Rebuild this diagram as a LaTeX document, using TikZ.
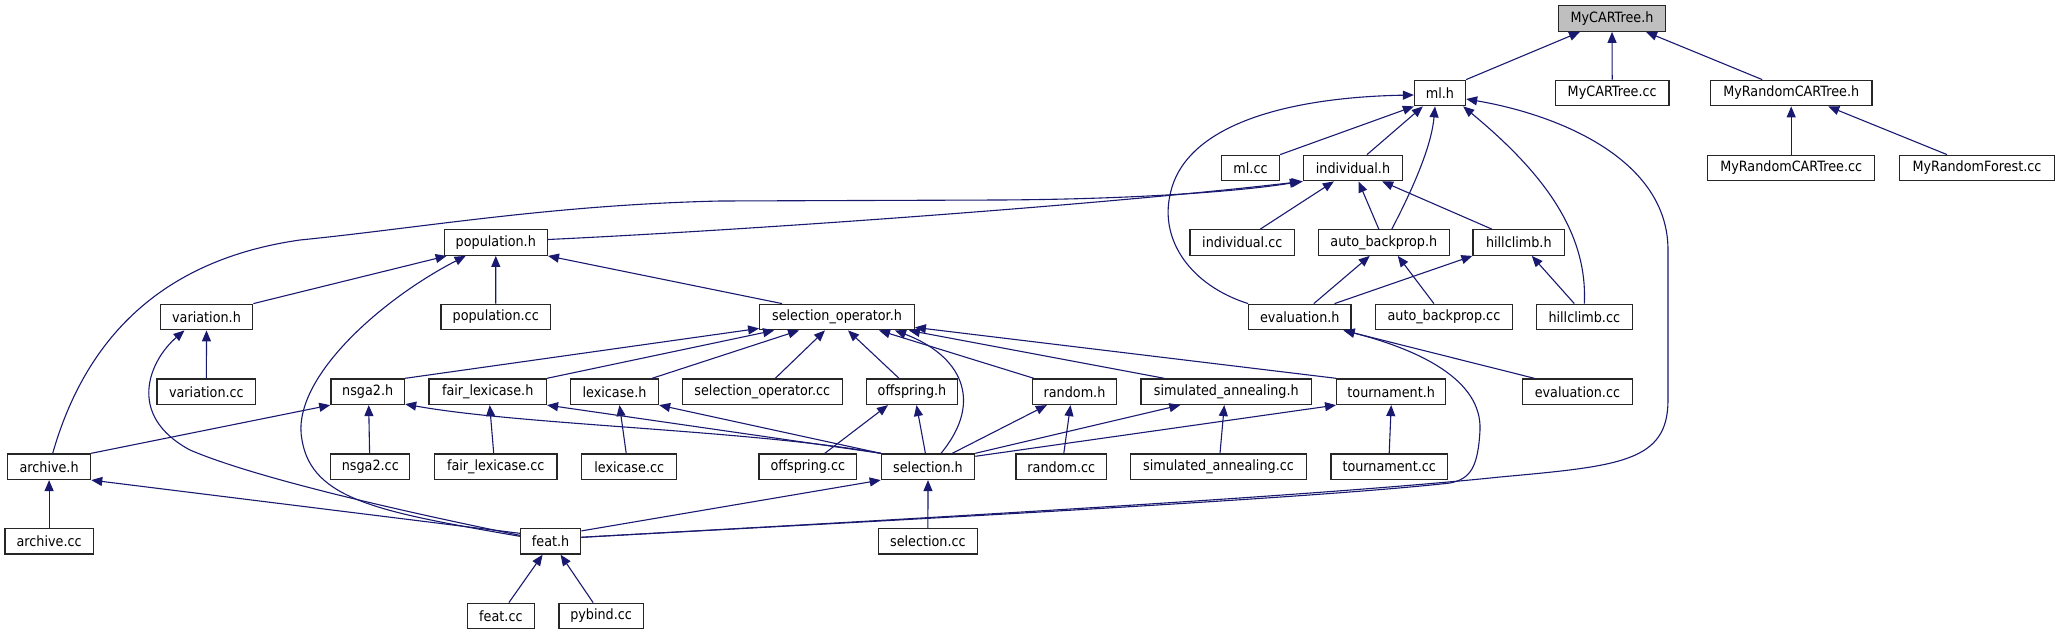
\documentclass[tikz,border=0pt]{standalone}
\usepackage{fontspec}
\setmainfont{DejaVu Sans}[FakeStretch=0.9]
\usetikzlibrary{arrows.meta}
\definecolor{mblue}{HTML}{191970}
\definecolor{nodegray}{HTML}{BFBFBF}
\tikzset{
  box/.style={draw=black!85, line width=1.3pt, fill=white, minimum height=25.5pt, inner sep=0pt, anchor=center, font=\fontsize{14.2pt}{16pt}\selectfont},
  e/.style={draw=mblue, line width=1.1pt, {Triangle[length=11pt,width=9pt]}-}
}
\begin{document}
\begin{tikzpicture}[x=1pt,y=-1pt]
\useasboundingbox (0,0) rectangle (2059,635);
% row 0
\node[box, fill=nodegray, minimum width=106.7pt] (MyCARTreeh) at (1612,18.5) {MyCARTree.h};
% row 1
\node[box, minimum width=51pt] (mlh) at (1440,93) {ml.h};
\node[box, minimum width=113.4pt] (MyCARTreecc) at (1612.2,93) {MyCARTree.cc};
\node[box, minimum width=161.6pt] (MyRCTh) at (1791.2,93) {MyRandomCARTree.h};
% row 2
\node[box, minimum width=167pt] (MyRCTcc) at (1791.2,168) {MyRandomCARTree.cc};
\node[box, minimum width=155.3pt] (MyRFcc) at (1977,168) {MyRandomForest.cc};
\node[box, minimum width=58pt] (mlcc) at (1250.5,168) {ml.cc};
\node[box, minimum width=99pt] (indh) at (1353,168) {individual.h};
% row 3
\node[box, minimum width=103pt] (poph) at (495.8,242.5) {population.h};
\node[box, minimum width=104.6pt] (indcc) at (1242.3,242.5) {individual.cc};
\node[box, minimum width=131pt] (abh) at (1383.8,242.5) {auto\_backprop.h};
\node[box, minimum width=91.5pt] (hch) at (1518.8,242.5) {hillclimb.h};
% row 4
\node[box, minimum width=92.4pt] (varh) at (206.5,317) {variation.h};
\node[box, minimum width=109.4pt] (popcc) at (495.7,317) {population.cc};
\node[box, minimum width=154.5pt] (soh) at (837,317) {selection\_operator.h};
\node[box, minimum width=102.2pt] (evh) at (1299.8,317) {evaluation.h};
\node[box, minimum width=136.6pt] (abcc) at (1443.9,317) {auto\_backprop.cc};
\node[box, minimum width=96pt] (hccc) at (1584.3,317) {hillclimb.cc};
% row 5
\node[box, minimum width=98.8pt] (varcc) at (206.4,391.7) {variation.cc};
\node[box, minimum width=73.7pt] (nsga2h) at (367.7,391.7) {nsga2.h};
\node[box, minimum width=117.4pt] (flh) at (487.7,391.7) {fair\_lexicase.h};
\node[box, minimum width=88pt] (lexh) at (614.5,391.7) {lexicase.h};
\node[box, minimum width=160pt] (socc) at (762.3,391.7) {selection\_operator.cc};
\node[box, minimum width=91.1pt] (offh) at (912,391.7) {offspring.h};
\node[box, minimum width=84pt] (randh) at (1074.5,391.7) {random.h};
\node[box, minimum width=170.6pt] (sah) at (1226.3,391.7) {simulated\_annealing.h};
\node[box, minimum width=109pt] (tourh) at (1391.2,391.7) {tournament.h};
\node[box, minimum width=109.8pt] (evcc) at (1577.4,391.7) {evaluation.cc};
% row 6
\node[box, minimum width=83pt] (archh) at (49.1,466.7) {archive.h};
\node[box, minimum width=79pt] (nsga2cc) at (370.3,466.7) {nsga2.cc};
\node[box, minimum width=122.7pt] (flcc) at (495.7,466.7) {fair\_lexicase.cc};
\node[box, minimum width=95pt] (lexcc) at (629.2,466.7) {lexicase.cc};
\node[box, minimum width=97.7pt] (offcc) at (807.8,466.7) {offspring.cc};
\node[box, minimum width=93.3pt] (selh) at (928,466.7) {selection.h};
\node[box, minimum width=90.7pt] (randcc) at (1061.3,466.7) {random.cc};
\node[box, minimum width=176.3pt] (sacc) at (1218.5,466.7) {simulated\_annealing.cc};
\node[box, minimum width=116.3pt] (tourcc) at (1389.2,466.7) {tournament.cc};
% row 7
\node[box, minimum width=88.4pt] (archcc) at (49.1,541.3) {archive.cc};
\node[box, minimum width=60.3pt] (feath) at (550.6,541.3) {feat.h};
\node[box, minimum width=98.6pt] (selcc) at (927.9,541.3) {selection.cc};
% row 8
\node[box, minimum width=67pt] (featcc) at (500.9,616) {feat.cc};
\node[box, minimum width=84.3pt] (pybcc) at (601.1,616) {pybind.cc};

% edges (arrow tip at the included file)
\draw[e] ([xshift=22pt]MyCARTreeh.south west) -- (mlh.north east);
\draw[e] (MyCARTreeh.south) -- (MyCARTreecc.north);
\draw[e] ([xshift=-20pt]MyCARTreeh.south east) -- ([xshift=-29pt]MyRCTh.north);
\draw[e] (MyRCTh.south) -- (MyRCTcc.north);
\draw[e] ([xshift=37pt]MyRCTh.south) -- ([xshift=-30pt]MyRFcc.north);
\draw[e] (mlh.south west) -- (mlcc.north east);
\draw[e] ([xshift=9pt]mlh.south west) -- ([xshift=14pt]indh.north);
\draw[e] ([xshift=-5pt]mlh.south) .. controls (1432,140) and (1420,175) .. ([xshift=8pt]abh.north);
\draw[e] ([yshift=-2pt]mlh.west) .. controls (1300,97) and (1185,120) .. (1170,195) .. controls (1160,240) and (1190,285) .. (evh.north west);
\draw[e] ([xshift=-3pt]mlh.south east) .. controls (1540,170) and (1588,230) .. (hccc.north);
\draw[e] ([yshift=-6pt]mlh.east) .. controls (1560,115) and (1668,160) .. (1668,250) -- (1668,400) .. controls (1668,462) and (1620,466) .. (1500,477) .. controls (1300,498) and (800,525) .. ([yshift=4pt]feath.east);
\draw[e] (indh.south west) .. controls (1100,205) and (750,230) .. ([yshift=3pt]poph.east);
\draw[e] ([xshift=-2pt]indh.south west) .. controls (1250,190) and (1150,199) .. (1000,200) -- (720,201) .. controls (550,205) and (420,228) .. (300,240) .. controls (160,260) and (85,340) .. ([xshift=3.6pt]archh.north);
\draw[e] ([xshift=31pt]indh.south west) -- ([xshift=18pt]indcc.north);
\draw[e] ([xshift=5.5pt]indh.south) -- ([xshift=-5pt]abh.north);
\draw[e] ([xshift=-21pt]indh.south east) -- ([xshift=-27pt]hch.north);
\draw[e] ([xshift=3pt]poph.south west) -- (varh.north east);
\draw[e] ([xshift=22pt]poph.south west) .. controls (380,300) and (290,380) .. (302,440) .. controls (312,500) and (380,512) .. ([yshift=5pt]feath.west);
\draw[e] (poph.south) -- (popcc.north);
\draw[e] (poph.south east) -- ([xshift=23pt]soh.north west);
\draw[e] ([xshift=-14pt]abh.south) -- ([xshift=14pt]evh.north);
\draw[e] ([xshift=14pt]abh.south) -- ([xshift=-10pt]abcc.north);
\draw[e] (hch.south west) -- ([xshift=-17pt]evh.north east);
\draw[e] ([xshift=13pt]hch.south) -- ([xshift=-10pt]hccc.north);
\draw[e] (varh.south) -- (varcc.north);
\draw[e] ([xshift=-22pt]varh.south) .. controls (150,360) and (125,415) .. (190,450) .. controls (260,480) and (420,515) .. ([yshift=6pt]feath.west);
\draw[e] ([yshift=2pt]soh.south west) -- (nsga2h.north east);
\draw[e] ([xshift=15pt]soh.south west) -- (flh.north east);
\draw[e] ([xshift=40pt]soh.south west) -- ([xshift=-7pt]lexh.north east);
\draw[e] ([xshift=-12pt]soh.south) -- ([xshift=13pt]socc.north);
\draw[e] ([xshift=11pt]soh.south) -- ([xshift=-13pt]offh.north);
\draw[e] ([xshift=58pt]soh.south) .. controls (960,355) and (985,400) .. ([xshift=13pt]selh.north);
\draw[e] ([xshift=42pt]soh.south) -- ([xshift=2pt]randh.north west);
\draw[e] ([xshift=-6pt]soh.south east) -- ([xshift=-62pt]sah.north);
\draw[e] ([yshift=3pt]soh.south east) -- (tourh.north west);
\draw[e] ([xshift=-8pt]evh.south east) -- ([xshift=-43pt]evcc.north);
\draw[e] ([xshift=-8pt]evh.south east) .. controls (1420,350) and (1482,380) .. (1480,430) .. controls (1478,468) and (1470,479) .. (1450,483) .. controls (1300,500) and (800,525) .. ([yshift=4pt]feath.east);
\draw[e] (nsga2h.south west) -- (archh.north east);
\draw[e] ([xshift=1pt]nsga2h.south) -- ([xshift=-0.7pt]nsga2cc.north);
\draw[e] ([yshift=1pt]nsga2h.south east) .. controls (520,425) and (750,430) .. (selh.north west);
\draw[e] ([xshift=2pt]flh.south) -- ([xshift=-2pt]flcc.north);
\draw[e] (flh.south east) -- (selh.north west);
\draw[e] ([xshift=5pt]lexh.south) -- ([xshift=-3pt]lexcc.north);
\draw[e] (lexh.south east) -- (selh.north west);
\draw[e] ([xshift=-24pt]offh.south) -- ([xshift=17pt]offcc.north);
\draw[e] ([xshift=4.5pt]offh.south) -- ([xshift=-2.6pt]selh.north);
\draw[e] ([xshift=15pt]randh.south west) -- ([xshift=-23pt]selh.north east);
\draw[e] ([xshift=-4pt]randh.south) -- ([xshift=2.5pt]randcc.north);
\draw[e] ([xshift=-46pt]sah.south) -- (selh.north east);
\draw[e] ([xshift=-2pt]sah.south) -- ([xshift=1.5pt]sacc.north);
\draw[e] (tourh.south west) -- ([yshift=-3pt]selh.north east);
\draw[e] (tourh.south) -- (tourcc.north);
\draw[e] (archh.south) -- (archcc.north);
\draw[e] (archh.south east) -- ([yshift=8pt]feath.west);
\draw[e] (selh.south west) -- ([yshift=-3pt]feath.north east);
\draw[e] (selh.south) -- (selcc.north);
\draw[e] ([xshift=-8pt]feath.south) -- ([xshift=8pt]featcc.north);
\draw[e] ([xshift=10pt]feath.south) -- ([xshift=-8pt]pybcc.north);
\end{tikzpicture}
\end{document}
